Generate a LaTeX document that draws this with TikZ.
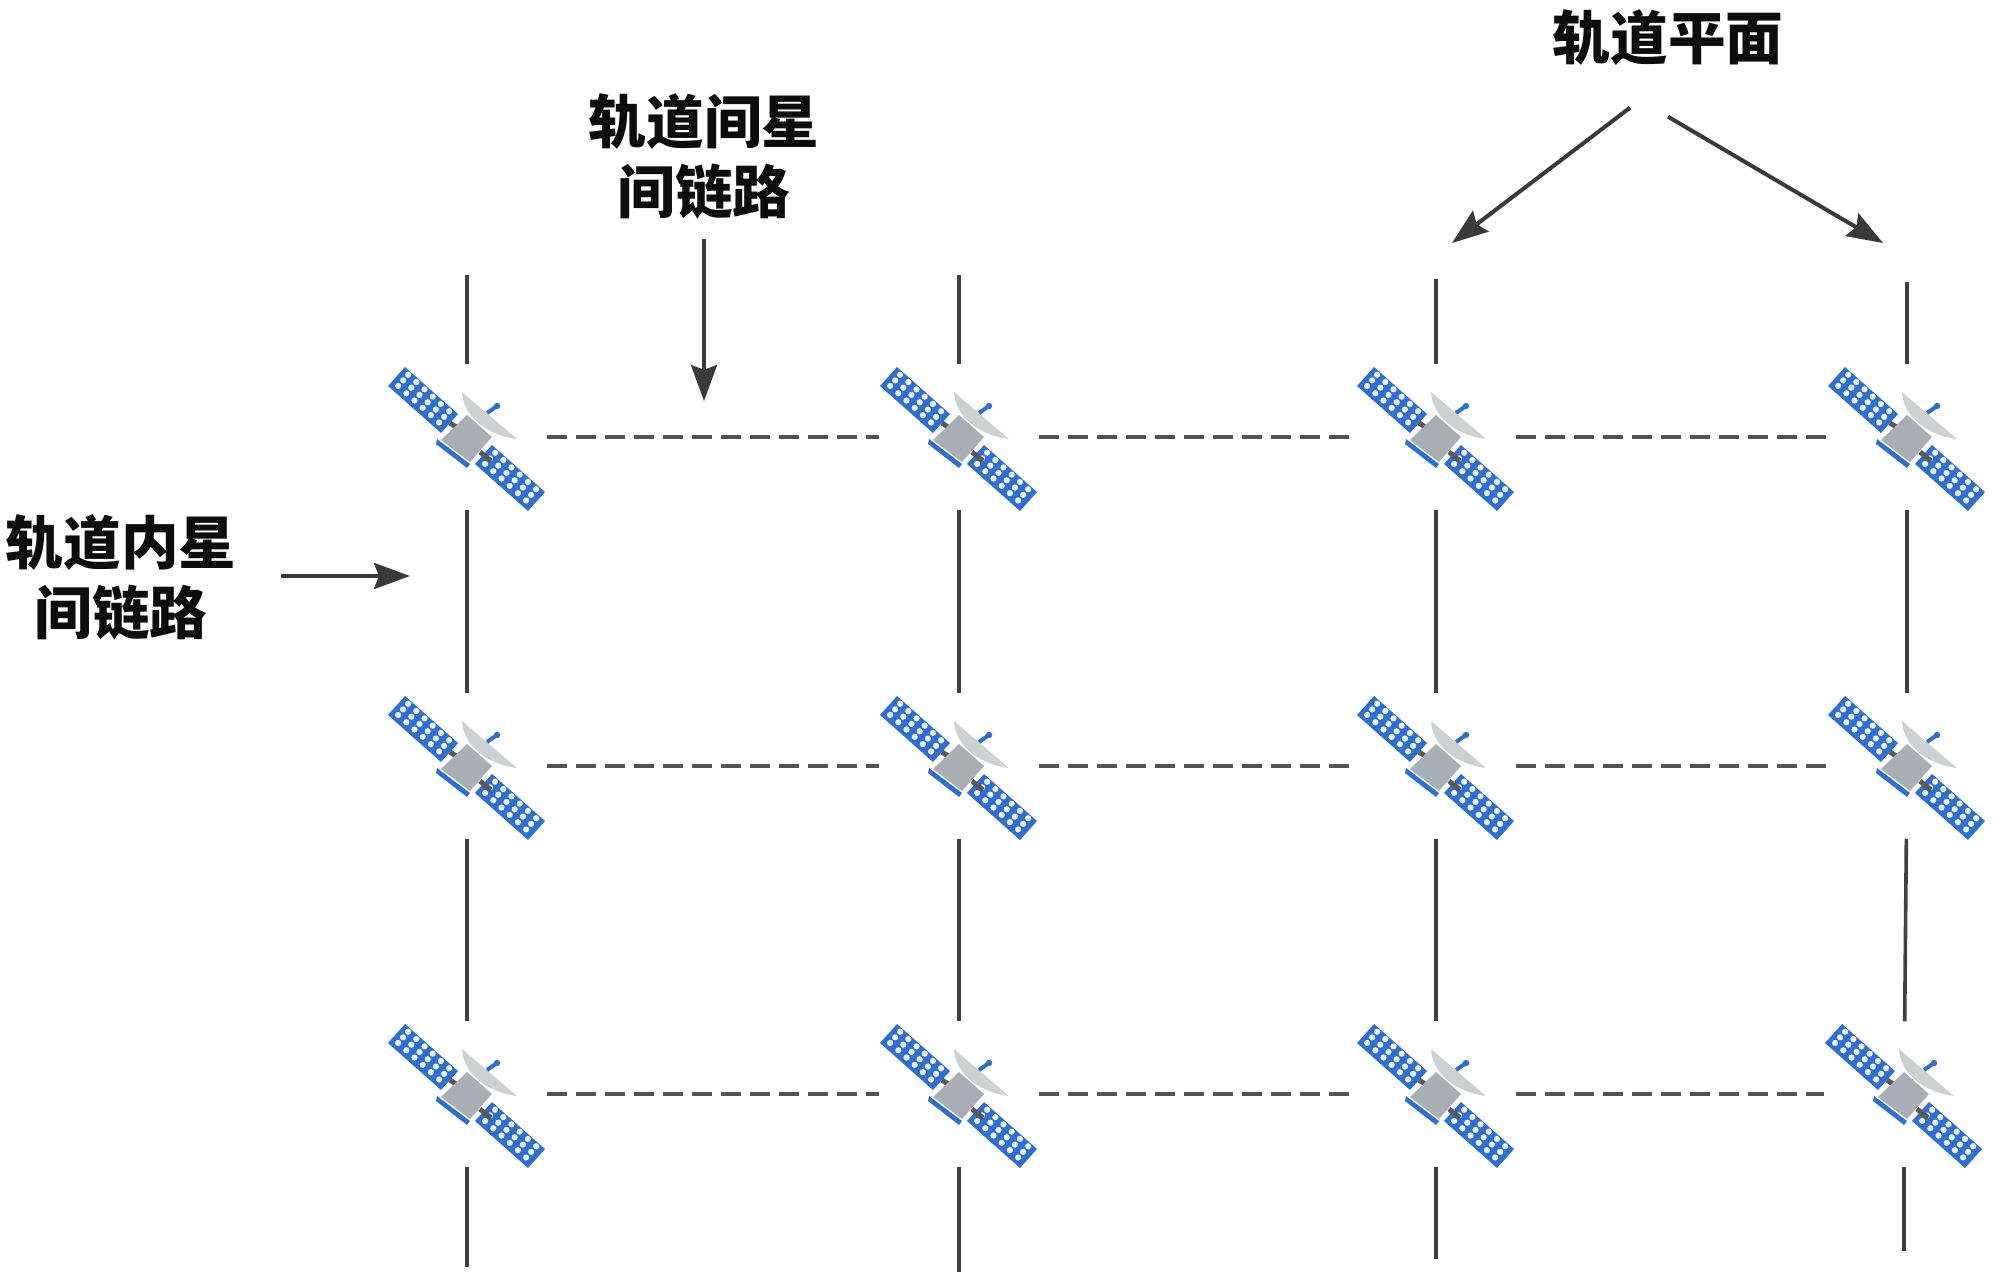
\documentclass[tikz,border=0pt]{standalone}
\usepackage{fontspec}
\usepackage{tikz}
\usetikzlibrary{arrows.meta, calc}
\newfontfamily\cjk{Noto Sans CJK SC}
\definecolor{panelblue}{HTML}{2F6FD2}
\definecolor{bodygray}{HTML}{A8AEB4}
\definecolor{dishgray}{HTML}{CDD1D2}
\definecolor{linkgray}{HTML}{404040}

\tikzset{
  satnode/.style={minimum width=1.58cm, minimum height=1.44cm, inner sep=0pt},
  isl/.style={line width=0.36mm, linkgray},
  interlink/.style={line width=0.4mm, linkgray!90, dash pattern=on 2mm off 0.9mm},
  callout/.style={line width=0.4mm, linkgray!90!black, -{Stealth[length=3.6mm, width=2.6mm, inset=0.5mm]}},
  caption/.style={font=\cjk\bfseries\fontsize{16.4pt}{19.9pt}\selectfont, align=center, inner sep=0pt, text=black!95},
  pics/satcraft/.style={code={
    % --- Solar panels ---
    \foreach \ox/\oy in {-62/-70, 25/8} {
      \fill[panelblue] (\ox, \oy) -- ++(53, 47) -- ++(-17, 19) -- ++(-53, -47) -- cycle;
      \foreach \i in {0, ..., 5} {
        \foreach \j in {0, 1, 2} {
          \fill[white!92!panelblue] ($(\ox, \oy) + ({(\i + 0.5) * 8.2 + 1.5}, {(\i + 0.5) * 7.3 + 1.3}) + ({-(\j + 0.5) * 5.0}, {(\j + 0.5) * 5.6})$) circle (3.1);
        }
      }
    }
    % --- Booms ---
    \draw[line width=0.5mm, black!65] (-17, -14) -- (-8, -8);
    \draw[line width=0.5mm, black!65] (13, 15) -- (24, 24);
    % --- Bus and blue edge ---
    \fill[panelblue] (-30, 2) -- (3, 27) -- (0, 31) -- (-31, 7) -- cycle;
    \fill[bodygray] (0, -22) -- (25, 0) -- (3, 25) -- (-26, 3) -- cycle;
    % --- Dish and feed ---
    \fill[dishgray] (-5, -45) .. controls (-4, -22) and (18, -2) .. (50, 2) -- cycle;
    \draw[line width=0.4mm, panelblue] (20, -24) -- (30, -31);
    \fill[panelblue] (30, -31) circle (3.2);
  }}
}

\begin{document}
\begin{tikzpicture}[x=0.01cm, y=-0.01cm, >=Stealth]
\useasboundingbox (0, 0) rectangle (2000, 1276);

% --- Satellites ---
\foreach \nm/\x/\y in {11/467/437, 12/959/437, 13/1436/437, 14/1907/437,
                       21/467/766, 22/959/766, 23/1436/766, 24/1907/766,
                       31/467/1094, 32/959/1094, 33/1436/1094, 34/1904/1094} {
  \node[satnode] (s\nm) at (\x, \y) {};
  \pic at (\x, \y) {satcraft};
}

% --- Free ends of the orbit lines ---
\coordinate (top1) at (467, 275);
\coordinate (top2) at (959, 275);
\coordinate (top3) at (1436, 279);
\coordinate (top4) at (1907, 282);
\coordinate (bot1) at (467, 1267);
\coordinate (bot2) at (959, 1272);
\coordinate (bot3) at (1436, 1259);
\coordinate (bot4) at (1904, 1251);

% --- Intra-plane links ---
\foreach \c in {1, 2, 3, 4} {
  \draw[isl] (top\c) -- (s1\c);
  \draw[isl] (s1\c) -- (s2\c);
  \draw[isl] (s2\c) -- (s3\c);
  \draw[isl] (s3\c) -- (bot\c);
}

% --- Inter-plane links ---
\foreach \r in {1, 2, 3} {
  \draw[interlink] (s\r1) -- (s\r2);
  \draw[interlink] (s\r2) -- (s\r3);
  \draw[interlink] (s\r3) -- (s\r4);
}

% --- Captions ---
\node[caption] (lblplane) at (1668, 38) {轨道平面};
\node[caption] (lblinter) at (704, 156) {轨道间星\\间链路};
\node[caption] (lblintra) at (121, 577) {轨道内星\\间链路};

% --- Callout arrows ---
\coordinate (tipinter) at (704, 401);
\coordinate (tipintra) at (410, 576);
\coordinate (tipleft) at (1452, 243);
\coordinate (tipright) at (1883, 243);
\draw[callout] ($(lblinter.south) + (0, 20)$) -- (tipinter);
\draw[callout] ($(lblintra.east) + (44, -1)$) -- (tipintra);
\draw[callout] ($(lblplane.south) + (-38, 41)$) -- (tipleft);
\draw[callout] ($(lblplane.south) + (0, 50)$) -- (tipright);

\end{tikzpicture}
\end{document}
